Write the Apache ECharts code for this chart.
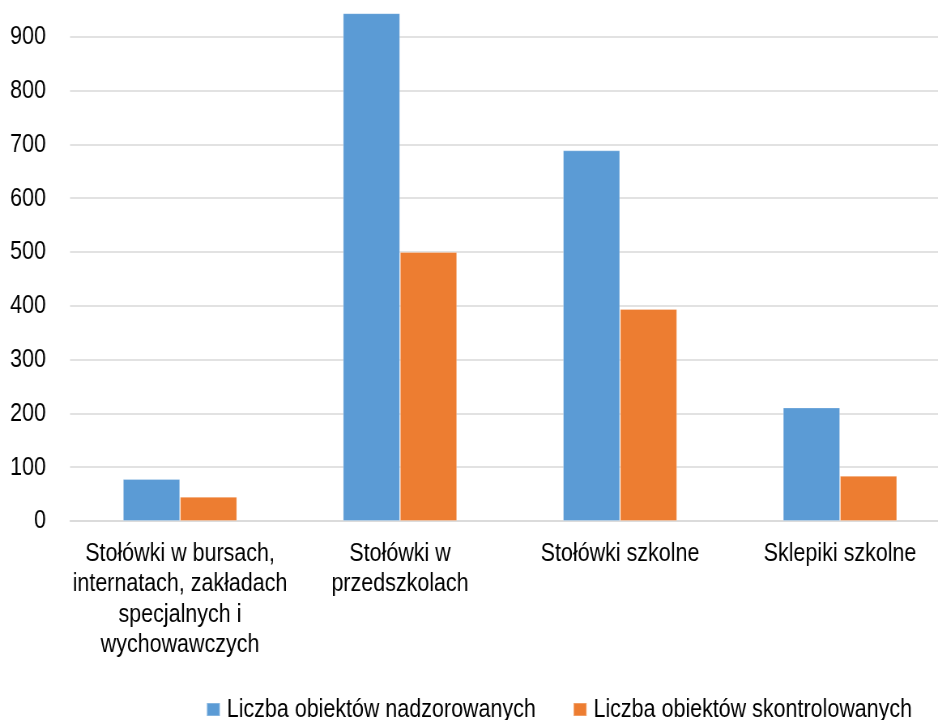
<!DOCTYPE html>
<html>
<head>
<meta charset="utf-8">
<script src="https://cdn.jsdelivr.net/npm/echarts@6/dist/echarts.min.js"></script>
<style>
  html, body { margin: 0; padding: 0; background: #ffffff; width: 938px; height: 720px; overflow: hidden; }
  /* The chart is laid out wider and squeezed horizontally so the Arial-style
     lettering comes out narrow, as in the printed report. */
  #chart { width: 1158px; height: 720px; transform: scaleX(0.81); transform-origin: 0 0; }
</style>
</head>
<body>
<div id="chart"></div>
<script>
// Object types (x axis), with line breaks as printed
const categories = [
  'Stołówki w bursach,\ninternatach, zakładach\nspecjalnych i\nwychowawczych',
  'Stołówki w\nprzedszkolach',
  'Stołówki szkolne',
  'Sklepiki szkolne'
];

const seriesNames = ['Liczba obiektów nadzorowanych', 'Liczba obiektów skontrolowanych'];

// Counts per object type
const supervised = [78, 944, 689, 211];
const inspected  = [45, 500, 394, 84];

const FONT = '"Liberation Sans", Arial, sans-serif';
const GRID_COLOR = '#d9d9d9';
const SX = 0.81; // horizontal squeeze applied by CSS; x-distances below are pre-divided by it

const chart = echarts.init(document.getElementById('chart'), null, { renderer: 'canvas' });

chart.setOption({
  animation: false,
  color: ['#5b9bd5', '#ed7d31'],
  textStyle: { fontFamily: FONT },
  grid: {
    left: 70 / SX,
    right: 1158 - 950 / SX,
    top: -17,
    bottom: 199,
    containLabel: false,
    outerBoundsMode: 'none'
  },
  legend: {
    data: seriesNames,
    left: 202 / SX,
    top: 691,
    itemWidth: 13 / SX,
    itemHeight: 13,
    itemGap: 37 / SX,
    icon: 'rect',
    textStyle: {
      fontFamily: FONT,
      fontSize: 26.5,
      color: '#000000',
      lineHeight: 26,
      padding: [0, 0, 0, 3.5]
    }
  },
  xAxis: {
    type: 'category',
    data: categories,
    axisLine: { show: true, lineStyle: { color: GRID_COLOR, width: 1.5 } },
    axisTick: { show: false },
    axisLabel: {
      interval: 0,
      margin: 17,
      fontFamily: FONT,
      fontSize: 26.5,
      lineHeight: 30.5,
      color: '#000000',
      align: 'center'
    }
  },
  yAxis: {
    type: 'value',
    min: 0,
    max: 1000,
    interval: 100,
    axisLine: { show: false },
    axisTick: { show: false },
    splitLine: { lineStyle: { color: GRID_COLOR, width: 1.5 } },
    axisLabel: {
      margin: 24 / SX,
      fontFamily: FONT,
      fontSize: 26.5,
      color: '#000000'
    }
  },
  series: [
    {
      name: seriesNames[0],
      type: 'bar',
      data: supervised,
      barWidth: 57 / SX,
      barGap: '0%',
      itemStyle: { borderColor: 'rgba(255,255,255,0.25)', borderWidth: 1 }
    },
    {
      name: seriesNames[1],
      type: 'bar',
      data: inspected,
      barWidth: 57 / SX,
      barGap: '0%',
      itemStyle: { borderColor: 'rgba(255,255,255,0.25)', borderWidth: 1 }
    }
  ]
});
</script>
</body>
</html>
